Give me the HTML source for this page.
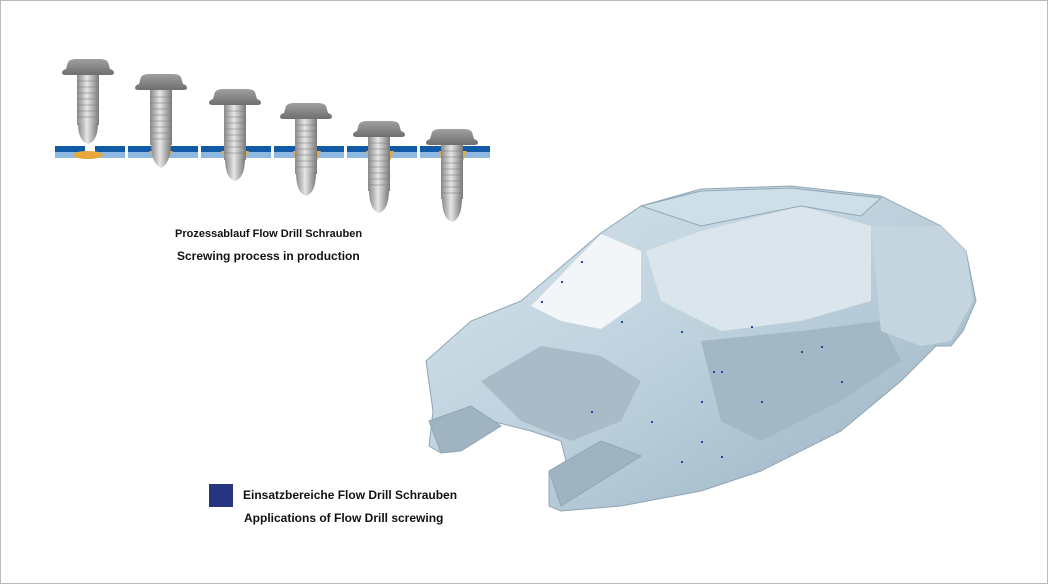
<!DOCTYPE html>
<html><head><meta charset="utf-8"><style>
body{margin:0;background:#fff}
.w{position:relative;width:1046px;height:582px;border:1px solid #bbb;overflow:hidden;font-family:"Liberation Sans",Arial,sans-serif}
.t{position:absolute;font-weight:bold;color:#111}
</style></head><body><div class="w">
<svg width="1046" height="582" style="position:absolute;left:0;top:0">
<defs>
<linearGradient id="sh" x1="0" x2="1"><stop offset="0" stop-color="#8a8a8a"/><stop offset=".45" stop-color="#e6e6e6"/><stop offset="1" stop-color="#7a7a7a"/></linearGradient>
<linearGradient id="hd" x1="0" x2="0" y1="0" y2="1"><stop offset="0" stop-color="#a0a0a0"/><stop offset="1" stop-color="#6e6e6e"/></linearGradient>
<linearGradient id="car" x1="0" x2="1" y1="0" y2="1"><stop offset="0" stop-color="#d5e4ec"/><stop offset=".5" stop-color="#bcd0dc"/><stop offset="1" stop-color="#98afbe"/></linearGradient>
<g id="plate"><rect x="0" y="0" width="30" height="6" fill="#1259a6"/><rect x="0" y="6" width="30" height="6" fill="#8fb9e0"/><rect x="40" y="0" width="30" height="6" fill="#1259a6"/><rect x="40" y="6" width="30" height="6" fill="#8fb9e0"/></g>
<path id="head" d="M-26 14 Q-26 11 -22 10 L-20 3 Q-18 0 -12 0 L12 0 Q18 0 20 3 L22 10 Q26 11 26 14 Q26 16 22 16 L-22 16 Q-26 16 -26 14Z"/>
</defs>
<g transform="translate(54,145)"><use href="#plate"/></g>
<g transform="translate(127,145)"><use href="#plate"/></g>
<g transform="translate(200,145)"><use href="#plate"/></g>
<g transform="translate(273,145)"><use href="#plate"/></g>
<g transform="translate(346,145)"><use href="#plate"/></g>
<g transform="translate(419,145)"><use href="#plate"/></g>
<ellipse cx="87" cy="154" rx="15" ry="4" fill="#e8a93a"/>
<polygon points="148,150 172,150 160,167" fill="#e3aa45"/>
<polygon points="220,150 248,150 242,162 226,162" fill="#e3aa45"/>
<polygon points="292,150 320,150 314,165 296,165" fill="#e3aa45"/>
<polygon points="365,150 393,150 387,165 369,165" fill="#e3aa45"/>
<polygon points="438,150 466,150 460,165 442,165" fill="#e3aa45"/>
<g><rect x="76" y="74" width="22" height="50" fill="url(#sh)"/><path d="M77 122 L97 122 Q97 140 87 143 Q77 140 77 122Z" fill="url(#sh)"/><use href="#head" transform="translate(87,58)" fill="url(#hd)"/></g>
<g><rect x="149" y="89" width="22" height="55" fill="url(#sh)"/><path d="M150 142 L170 142 Q170 162 160 167 Q150 162 150 142Z" fill="url(#sh)"/><use href="#head" transform="translate(160,73)" fill="url(#hd)"/></g>
<g><rect x="223" y="104" width="22" height="55" fill="url(#sh)"/><path d="M224 157 L244 157 Q244 177 234 180 Q224 177 224 157Z" fill="url(#sh)"/><use href="#head" transform="translate(234,88)" fill="url(#hd)"/></g>
<g><rect x="294" y="118" width="22" height="55" fill="url(#sh)"/><path d="M295 171 L315 171 Q315 192 305 195 Q295 192 295 171Z" fill="url(#sh)"/><use href="#head" transform="translate(305,102)" fill="url(#hd)"/></g>
<g><rect x="367" y="135" width="22" height="55" fill="url(#sh)"/><path d="M368 188 L388 188 Q388 209 378 212 Q368 209 368 188Z" fill="url(#sh)"/><use href="#head" transform="translate(378,120)" fill="url(#hd)"/></g>
<g><rect x="440" y="143" width="22" height="55" fill="url(#sh)"/><path d="M441 196 L461 196 Q461 218 451 221 Q441 218 441 196Z" fill="url(#sh)"/><use href="#head" transform="translate(451,128)" fill="url(#hd)"/></g>
<g stroke="#777" stroke-width="1" opacity=".5">
<path d="M76 80h22M76 86h22M76 92h22M76 98h22M76 104h22M76 110h22M76 116h22"/>
<path d="M149 96h22M149 102h22M149 108h22M149 114h22M149 120h22M149 126h22M149 132h22M149 138h22"/>
<path d="M223 110h22M223 116h22M223 122h22M223 128h22M223 134h22M223 140h22M223 146h22M223 152h22"/>
<path d="M294 124h22M294 130h22M294 136h22M294 142h22M294 148h22M294 154h22M294 160h22M294 166h22"/>
<path d="M367 142h22M367 148h22M367 154h22M367 160h22M367 166h22M367 172h22M367 178h22M367 184h22"/>
<path d="M440 150h22M440 156h22M440 162h22M440 168h22M440 174h22M440 180h22M440 186h22M440 192h22"/>
</g>
<!-- car body -->
<g stroke="#8fa6b5" stroke-width="1" fill="url(#car)">
<polygon points="425,360 470,320 520,300 600,232 640,205 700,188 790,185 880,195 940,225 965,250 975,300 962,330 950,345 935,345 900,380 840,430 760,470 700,490 620,505 560,510 548,505 548,470 565,460 560,440 530,430 490,420 462,432 440,452 428,445 432,410"/>
<polygon points="530,305 600,233 640,250 640,300 600,328 560,320" fill="#f2f6f8" stroke="none"/>
<polygon points="645,250 700,230 800,205 870,225 870,300 800,320 720,330 660,300" fill="#dbe6ec" stroke="none"/>
<polygon points="640,205 700,190 790,187 880,197 860,215 800,205 700,225" fill="#cfdfe8"/>
<polygon points="480,380 540,345 600,355 640,380 620,420 570,440 520,420" fill="#a8bbc7" stroke="none"/>
<polygon points="700,340 800,330 880,320 900,360 840,400 760,440 720,420" fill="#a3b7c4" stroke="none"/>
<polygon points="870,225 940,225 965,250 972,300 950,340 920,345 880,330" fill="#c4d5df" stroke="none"/>
<polygon points="428,420 470,405 500,425 460,450 440,452" fill="#9fb3c0"/>
<polygon points="548,470 600,440 640,455 600,480 560,505" fill="#9fb3c0"/>
</g>
<g fill="#3040a0">
<rect x="620" y="320" width="2" height="2"/><rect x="680" y="330" width="2" height="2"/><rect x="720" y="370" width="2" height="2"/><rect x="760" y="400" width="2" height="2"/><rect x="800" y="350" width="2" height="2"/><rect x="540" y="300" width="2" height="2"/><rect x="590" y="410" width="2" height="2"/><rect x="700" y="440" width="2" height="2"/><rect x="840" y="380" width="2" height="2"/>
<rect x="712" y="370" width="2" height="2"/><rect x="700" y="400" width="2" height="2"/><rect x="650" y="420" width="2" height="2"/><rect x="750" y="325" width="2" height="2"/><rect x="820" y="345" width="2" height="2"/><rect x="560" y="280" width="2" height="2"/><rect x="580" y="260" width="2" height="2"/><rect x="720" y="455" width="2" height="2"/><rect x="680" y="460" width="2" height="2"/>
</g>
<rect x="208" y="483" width="24" height="23" fill="#253580"/>
</svg>
<div class="t" style="left:174px;top:227px;font-size:11px">Prozessablauf Flow Drill Schrauben</div>
<div class="t" style="left:176px;top:248px;font-size:12px">Screwing process in production</div>
<div class="t" style="left:242px;top:487px;font-size:12px">Einsatzbereiche Flow Drill Schrauben</div>
<div class="t" style="left:243px;top:510px;font-size:12px">Applications of Flow Drill screwing</div>
</div></body></html>
